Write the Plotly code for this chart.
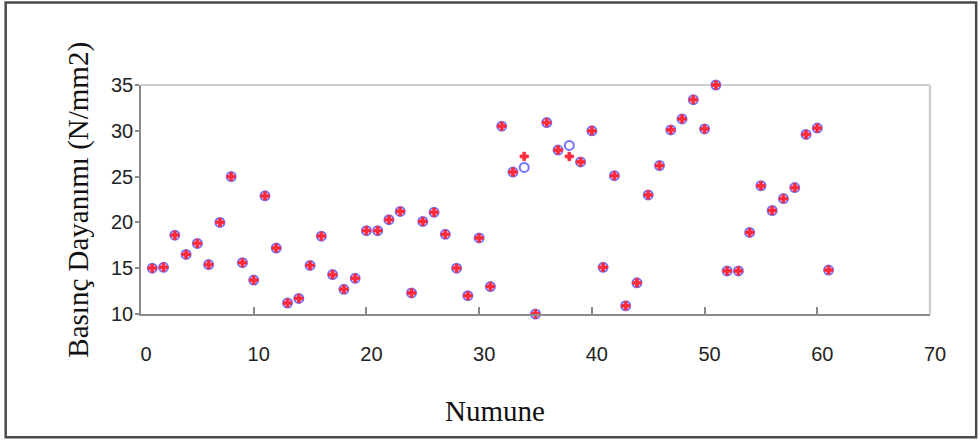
import plotly.graph_objects as go

# Sample numbers (Numune)
numune = list(range(1, 62))

# Measured compressive strength (blue open circles)
measured = [15.0, 15.1, 18.6, 16.5, 17.7, 15.4, 20.0, 25.0, 15.6, 13.7,
            22.9, 17.2, 11.2, 11.7, 15.3, 18.5, 14.3, 12.7, 13.9, 19.1,
            19.1, 20.3, 21.2, 12.3, 20.1, 21.1, 18.7, 15.0, 12.0, 18.3,
            13.0, 30.5, 25.5, 26.0, 10.0, 30.9, 27.9, 28.4, 26.6, 30.0,
            15.1, 25.1, 10.9, 13.4, 23.0, 26.2, 30.1, 31.3, 33.4, 30.2,
            35.0, 14.7, 14.7, 18.9, 24.0, 21.3, 22.6, 23.8, 29.6, 30.3,
            14.8]

# Predicted compressive strength (red plus markers)
predicted = [15.0, 15.1, 18.6, 16.5, 17.7, 15.4, 20.0, 25.0, 15.6, 13.7,
             22.9, 17.2, 11.2, 11.7, 15.3, 18.5, 14.3, 12.7, 13.9, 19.1,
             19.1, 20.3, 21.2, 12.3, 20.1, 21.1, 18.7, 15.0, 12.0, 18.3,
             13.0, 30.5, 25.5, 27.2, 10.0, 30.9, 27.9, 27.2, 26.6, 30.0,
             15.1, 25.1, 10.9, 13.4, 23.0, 26.2, 30.1, 31.3, 33.4, 30.2,
             35.0, 14.7, 14.7, 18.9, 24.0, 21.3, 22.6, 23.8, 29.6, 30.3,
             14.8]

x_ticks = [0, 10, 20, 30, 40, 50, 60, 70]
y_ticks = [10, 15, 20, 25, 30, 35]

fig = go.Figure()
fig.add_trace(go.Scatter(
    x=numune, y=measured, mode="markers", name="Deney",
    marker=dict(symbol="circle-open", size=9, color="#7373ff",
                line=dict(width=2, color="#7373ff")),
    cliponaxis=False, showlegend=False))
fig.add_trace(go.Scatter(
    x=numune, y=predicted, mode="markers", name="Tahmin",
    marker=dict(symbol="cross", size=7, color="#ff2a3a",
                line=dict(width=0.8, color="#ff2a3a")),
    cliponaxis=False, showlegend=False))

tick_font = dict(family="Liberation Sans, Arial, sans-serif", size=20, color="#222222")

fig.update_layout(
    width=980, height=441,
    margin=dict(l=140.5, r=49.5, t=85, b=126.7, pad=0),
    paper_bgcolor="white", plot_bgcolor="white",
    xaxis=dict(range=[0, 70], tickvals=x_ticks, ticks="inside", ticklen=7,
               tickcolor="#8a8a8a", tickwidth=1.5,
               showline=True, linecolor="#8a8a8a", linewidth=1.5,
               showgrid=False, zeroline=False, tickfont=tick_font,
               ticklabelstandoff=21, ticklabelshift=5),
    yaxis=dict(range=[10, 35], tickvals=y_ticks, ticks="outside", ticklen=4,
               tickcolor="#8a8a8a", tickwidth=1.5,
               showline=True, linecolor="#8a8a8a", linewidth=1.5,
               showgrid=False, zeroline=False, tickfont=tick_font,
               ticklabelstandoff=-2),
    shapes=[
        # top and right frame lines (light gray)
        dict(type="line", xref="x domain", yref="y domain", x0=0, x1=1, y0=1, y1=1,
             line=dict(color="#cfcfcf", width=2), layer="below"),
        dict(type="line", xref="x domain", yref="y domain", x0=1, x1=1, y0=0, y1=1,
             line=dict(color="#cfcfcf", width=2.5), layer="below"),
        # outer border around the figure
        dict(type="rect", xref="paper", yref="paper",
             x0=-0.1715, x1=1.0585, y0=-0.5385, y1=1.3605,
             line=dict(color="#4a4a4a", width=2.5)),
    ],
    annotations=[
        dict(text="Numune", xref="paper", yref="paper", x=0.449, y=-0.425,
             xanchor="center", yanchor="middle", showarrow=False,
             font=dict(family="Liberation Serif, Times New Roman, serif", size=29, color="#111111")),
        dict(text="Basınç Dayanımı (N/mm2)", xref="paper", yref="paper", x=-0.079, y=0.498,
             xanchor="center", yanchor="middle", showarrow=False, textangle=-90,
             font=dict(family="Liberation Serif, Times New Roman, serif", size=29, color="#111111")),
    ],
)

fig.write_html("out.html",
               config={"displayModeBar": False},
               post_script="document.body.style.margin='0px';document.body.style.overflow='hidden';")
